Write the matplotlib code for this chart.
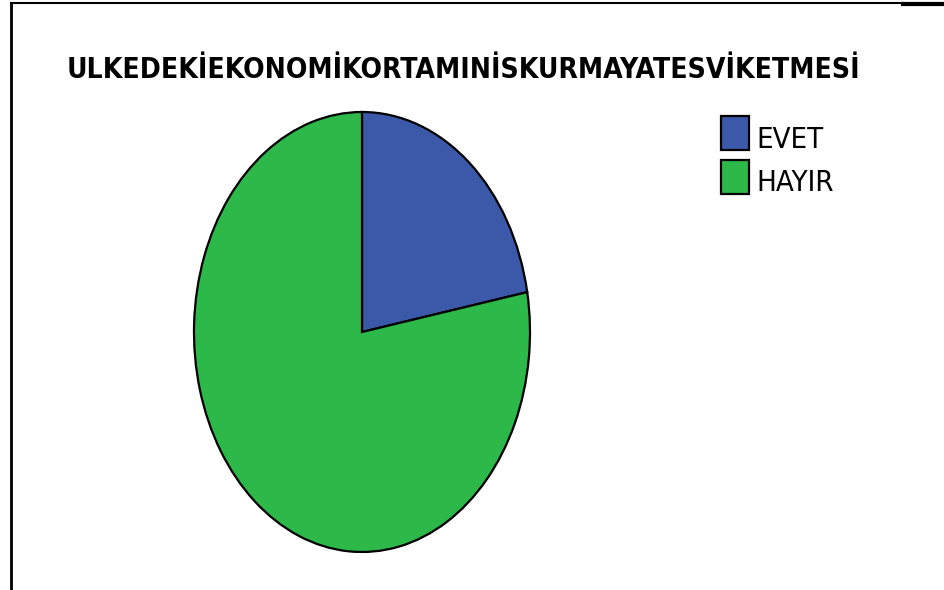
import matplotlib
matplotlib.use("Agg")
import matplotlib.pyplot as plt
from matplotlib.lines import Line2D
from matplotlib import font_manager
from matplotlib.font_manager import FontProperties

# data
labels = ["EVET", "HAYIR"]
values = [22.1, 77.9]
colors = ["#3c58a8", "#2db84a"]
title = "ULKEDEKİEKONOMİKORTAMINİSKURMAYATESVİKETMESİ"


def pick_narrow(bold):
    # look for an installed narrow/condensed face, else plain DejaVu Sans
    found = []
    for f in font_manager.fontManager.ttflist:
        tag = (f.name + " " + f.fname + " " + str(f.stretch)).lower()
        if "narrow" in tag or "condensed" in tag:
            is_bold = f.weight in ("bold", 700, "heavy", 800, 900) or "bold" in f.fname.lower()
            italic = f.style != "normal"
            if is_bold == bold and not italic:
                found.append(f)
    if found:
        return FontProperties(fname=found[0].fname)
    return FontProperties(family="DejaVu Sans", weight="bold" if bold else "normal")


title_fp = pick_narrow(True)
leg_fp = pick_narrow(False)

fig = plt.figure(figsize=(9.45, 5.9), dpi=100)

# pie is stretched vertically in the original, so no equal aspect
ax = fig.add_axes([194 / 945, 38 / 590, 336 / 945, 440 / 590])
wedges, _ = ax.pie(
    values,
    colors=colors,
    startangle=90,
    counterclock=False,
    wedgeprops=dict(edgecolor="black", linewidth=1.6),
)
ax.set_aspect("auto")
ax.set_xlim(-1, 1)
ax.set_ylim(-1, 1)
ax.axis("off")

t = fig.text(463 / 945, 1 - 70 / 590, title, ha="center", va="center",
             fontproperties=title_fp)
t.set_fontsize(28)

renderer = fig.canvas.get_renderer()
w = t.get_window_extent(renderer).width
t.set_fontsize(28 * min(1.0, 794 / w))

leg_fp.set_size(30)
leg = fig.legend(
    wedges, labels,
    loc="upper left",
    bbox_to_anchor=(721 / 945, 1 - 116 / 590),
    frameon=False,
    prop=leg_fp,
    handlelength=0.67,
    handleheight=0.89,
    handletextpad=0.18,
    labelspacing=0.15,
    borderpad=0.0,
    borderaxespad=0.0,
)
# shrink the legend text if no narrow face was found
ev = leg.get_texts()[0].get_window_extent(renderer).width
if ev > 78:
    for tx in leg.get_texts():
        tx.set_fontsize(30 * 67 / ev)

# frame lines around the chart area
fig.add_artist(Line2D([11 / 945, 11 / 945], [0, 1 - 3 / 590],
                      color="black", linewidth=2))
fig.add_artist(Line2D([11 / 945, 903 / 945], [1 - 3 / 590, 1 - 3 / 590],
                      color="black", linewidth=1.5))
fig.add_artist(Line2D([903 / 945, 1], [1 - 4 / 590, 1 - 4 / 590],
                      color="black", linewidth=3))

fig.savefig("out.png", dpi=100)
